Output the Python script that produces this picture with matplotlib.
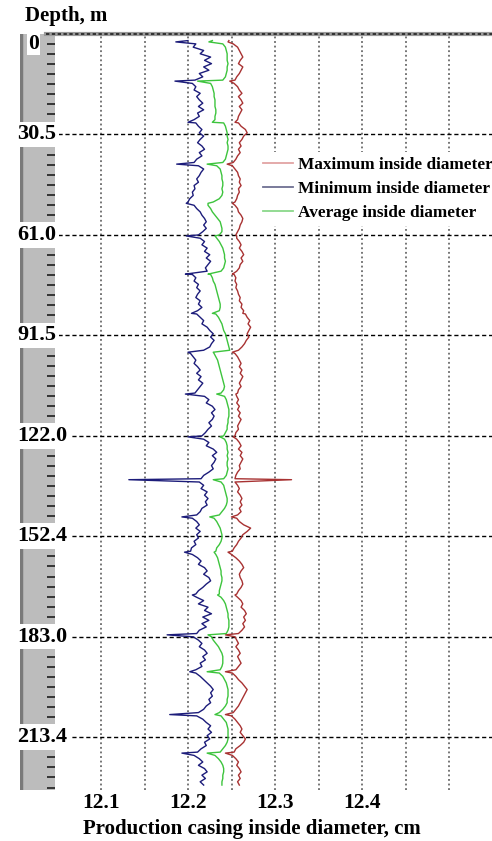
import numpy as np
import matplotlib.pyplot as plt
from matplotlib.lines import Line2D
from matplotlib.transforms import blended_transform_factory

plt.rcParams['font.family'] = ['Liberation Serif', 'DejaVu Serif']
plt.rcParams['font.weight'] = 'bold'

# caliper log, one reading per metre (2 m .. 228 m)
depth = np.arange(2, 229)

d_min = [
    12.200, 12.209, 12.206, 12.218, 12.214, 12.226, 12.219, 12.227, 12.218, 12.224, 12.213, 12.217, 12.208,
    12.205, 12.209, 12.207, 12.214, 12.210, 12.213, 12.217, 12.212, 12.218, 12.211, 12.213, 12.207,
    12.209, 12.212, 12.216, 12.213, 12.218, 12.214, 12.211, 12.216, 12.219, 12.213, 12.216, 12.210, 12.207,
    12.212, 12.218, 12.215, 12.213, 12.210, 12.212, 12.207, 12.208, 12.205, 12.206, 12.202, 12.200,
    12.207, 12.210, 12.214, 12.216, 12.219, 12.221, 12.218, 12.221, 12.217,
    12.212, 12.214, 12.219, 12.216, 12.222, 12.219, 12.225, 12.221, 12.226, 12.223, 12.220, 12.222,
    12.205, 12.209, 12.207, 12.212, 12.210, 12.214, 12.211, 12.209, 12.214, 12.212, 12.216, 12.211,
    12.210, 12.214, 12.218, 12.216, 12.222, 12.225, 12.229, 12.226, 12.230, 12.227, 12.225, 12.218,
    12.203, 12.206, 12.209, 12.207, 12.211, 12.214, 12.210, 12.215, 12.212, 12.217, 12.214, 12.211,
    12.208,
    12.219, 12.224, 12.221, 12.228, 12.231, 12.227, 12.230, 12.228, 12.224, 12.227, 12.223, 12.220,
    12.216,
    12.218, 12.224, 12.221, 12.229, 12.233, 12.228, 12.232, 12.230, 12.227, 12.229, 12.224, 12.218,
    12.215,
    12.213, 12.218, 12.215, 12.222, 12.219, 12.223, 12.220, 12.222, 12.216, 12.214, 12.210,
    12.205, 12.210, 12.213, 12.209, 12.214, 12.210, 12.212, 12.207, 12.209, 12.204,
    12.203,
    12.205, 12.211, 12.215, 12.212, 12.219, 12.222, 12.218, 12.224, 12.226, 12.221, 12.217, 12.212,
    12.209,
    12.210, 12.218, 12.212, 12.223, 12.219, 12.227, 12.217, 12.224, 12.216, 12.221, 12.213, 12.210,
    12.206, 12.212, 12.216, 12.213, 12.219, 12.222, 12.217, 12.220, 12.214, 12.216, 12.209,
    12.209, 12.214, 12.218, 12.222, 12.226, 12.229, 12.226, 12.228, 12.224, 12.226, 12.221, 12.218, 12.212,
    12.210, 12.217, 12.221, 12.226, 12.223, 12.227, 12.222, 12.225, 12.219, 12.221, 12.215,
    12.211,
    12.207, 12.213, 12.217, 12.212, 12.219, 12.222, 12.216, 12.220, 12.214, 12.218,
]

d_avg = [
    12.228, 12.240, 12.243, 12.244, 12.245, 12.245, 12.245, 12.246, 12.245, 12.245, 12.244, 12.243, 12.240,
    12.226, 12.228, 12.229, 12.230, 12.230, 12.231, 12.231, 12.231, 12.232, 12.232, 12.231, 12.231,
    12.241, 12.243, 12.244, 12.245, 12.245, 12.246, 12.245, 12.246, 12.246, 12.245, 12.244, 12.243, 12.240,
    12.233, 12.237, 12.238, 12.239, 12.239, 12.240, 12.240, 12.239, 12.240, 12.239, 12.236, 12.229,
    12.223, 12.226, 12.228, 12.231, 12.234, 12.237, 12.238, 12.239, 12.239,
    12.236, 12.233, 12.236, 12.238, 12.240, 12.241, 12.242, 12.242, 12.243, 12.242, 12.241, 12.238,
    12.226, 12.228, 12.229, 12.231, 12.232, 12.233, 12.234, 12.235, 12.236, 12.237, 12.237, 12.236,
    12.232, 12.235, 12.237, 12.239, 12.240, 12.241, 12.243, 12.244, 12.245, 12.246, 12.247, 12.248,
    12.230, 12.232, 12.234, 12.235, 12.236, 12.237, 12.238, 12.239, 12.240, 12.241, 12.242, 12.241,
    12.238,
    12.242, 12.244, 12.245, 12.246, 12.247, 12.247, 12.247, 12.246, 12.246, 12.245, 12.245, 12.243,
    12.241,
    12.242, 12.244, 12.245, 12.245, 12.246, 12.245, 12.246, 12.245, 12.245, 12.246, 12.245, 12.244,
    12.241,
    12.238, 12.241, 12.242, 12.243, 12.244, 12.245, 12.245, 12.244, 12.242, 12.239, 12.236,
    12.230, 12.233, 12.235, 12.237, 12.238, 12.239, 12.239, 12.238, 12.236, 12.233,
    12.232,
    12.232, 12.234, 12.235, 12.236, 12.237, 12.238, 12.238, 12.239, 12.239, 12.238, 12.237, 12.236,
    12.236,
    12.238, 12.241, 12.243, 12.244, 12.245, 12.246, 12.246, 12.247, 12.247, 12.247, 12.246, 12.244,
    12.227, 12.229, 12.232, 12.235, 12.237, 12.239, 12.240, 12.240, 12.240, 12.239, 12.237,
    12.236, 12.240, 12.242, 12.244, 12.245, 12.246, 12.246, 12.246, 12.245, 12.245, 12.243, 12.240, 12.236,
    12.238, 12.241, 12.244, 12.245, 12.246, 12.246, 12.246, 12.246, 12.245, 12.243, 12.240,
    12.237,
    12.231, 12.235, 12.238, 12.240, 12.241, 12.241, 12.240, 12.240, 12.239, 12.239,
]

d_max = [
    12.247, 12.252, 12.257, 12.259, 12.261, 12.263, 12.260, 12.258, 12.263, 12.261, 12.259, 12.256, 12.254,
    12.253, 12.257, 12.259, 12.262, 12.258, 12.261, 12.263, 12.259, 12.262, 12.260, 12.258, 12.257,
    12.258, 12.261, 12.266, 12.268, 12.264, 12.262, 12.259, 12.261, 12.258, 12.260, 12.257, 12.255, 12.252,
    12.251, 12.254, 12.257, 12.258, 12.260, 12.259, 12.261, 12.258, 12.259, 12.257, 12.256, 12.254,
    12.254, 12.257, 12.258, 12.261, 12.263, 12.262, 12.260, 12.259, 12.257,
    12.255, 12.256, 12.259, 12.261, 12.259, 12.262, 12.264, 12.261, 12.263, 12.260, 12.259, 12.256,
    12.253, 12.255, 12.254, 12.256, 12.255, 12.257, 12.258, 12.260, 12.259, 12.262, 12.261, 12.264,
    12.266, 12.268, 12.271, 12.269, 12.272, 12.270, 12.268, 12.270, 12.267, 12.265, 12.262, 12.258,
    12.254, 12.257, 12.259, 12.261, 12.259, 12.262, 12.260, 12.263, 12.261, 12.259, 12.261, 12.258,
    12.257,
    12.256, 12.258, 12.256, 12.259, 12.257, 12.260, 12.258, 12.261, 12.259, 12.257, 12.258, 12.255,
    12.254,
    12.256, 12.259, 12.261, 12.258, 12.262, 12.260, 12.263, 12.261, 12.259, 12.260, 12.257, 12.255,
    12.254,
    12.254, 12.257, 12.259, 12.257, 12.260, 12.262, 12.260, 12.262, 12.259, 12.261, 12.257,
    12.256, 12.259, 12.264, 12.272, 12.268, 12.263, 12.261, 12.258, 12.256, 12.253,
    12.251,
    12.250, 12.255, 12.259, 12.262, 12.264, 12.261, 12.259, 12.260, 12.262, 12.263, 12.261, 12.258,
    12.256,
    12.257, 12.261, 12.263, 12.261, 12.265, 12.267, 12.264, 12.266, 12.263, 12.265, 12.262, 12.258,
    12.254, 12.256, 12.258, 12.255, 12.258, 12.260, 12.257, 12.259, 12.261, 12.258, 12.255,
    12.251, 12.255, 12.258, 12.262, 12.265, 12.268, 12.266, 12.264, 12.262, 12.260, 12.258, 12.255, 12.252,
    12.250, 12.254, 12.257, 12.260, 12.262, 12.260, 12.263, 12.266, 12.264, 12.260, 12.255,
    12.253,
    12.251, 12.255, 12.258, 12.256, 12.259, 12.261, 12.258, 12.260, 12.257, 12.259,
]

# casing collars: readings taken right at each joint
joint_depth = [2.4, 14.3, 26.8, 39.5, 51.4, 61.3, 72.9, 84.8, 96.6, 109.3,
               122.3, 135.3, 146.6, 157.3, 170.3, 182.4, 193.6, 206.6, 218.3]
min_spike = [12.186, 12.185, 12.200, 12.187, 12.198, 12.198, 12.197, 12.204, 12.200, 12.197,
             12.200, 12.132, 12.193, 12.196, 12.205, 12.176, 12.202, 12.179, 12.193]
avg_spike = [12.224, 12.211, 12.228, 12.222, 12.223, 12.231, 12.223, 12.228, 12.229, 12.233,
             12.237, 12.229, 12.225, 12.230, 12.234, 12.223, 12.222, 12.231, 12.222]
max_spike = [12.246, 12.248, 12.254, 12.245, 12.251, 12.256, 12.251, 12.263, 12.251, 12.255,
             12.252, 12.319, 12.250, 12.246, 12.254, 12.243, 12.243, 12.243, 12.243]

depth_marks = [0, 30.5, 61.0, 91.5, 122.0, 152.4, 183.0, 213.4]
depth_labels = ['0', '30.5', '61.0', '91.5', '122.0', '152.4', '183.0', '213.4']
x_ticks = [12.1, 12.2, 12.3, 12.4]
x_grid = [12.10, 12.15, 12.20, 12.25, 12.30, 12.35, 12.40, 12.45, 12.50]


def with_joints(values, spikes):
    z = np.concatenate([depth, joint_depth])
    v = np.concatenate([values, spikes])
    order = np.argsort(z, kind='stable')
    return v[order], z[order]


W, H = 492, 841
top_px, bot_px = 34, 790
fig = plt.figure(figsize=(W / 100, H / 100), dpi=100)
fig.patch.set_facecolor('white')

# depth track on the left
track = fig.add_axes([20 / W, 1 - bot_px / H, 35 / W, (bot_px - top_px) / H])
ax = fig.add_axes([57.5 / W, 1 - bot_px / H, 435 / W, (bot_px - top_px) / H], sharey=track)

track.set_facecolor('#bcbcbc')
track.set_xlim(0, 1)
for s in track.spines.values():
    s.set_visible(False)
track.axvline(0.02, color='#7a7a7a', lw=2.5)
track.hlines(np.arange(3.05, 229, 3.05), 0.76, 1.0, color='#2a2a2a', lw=1.3)
track.tick_params(left=False, bottom=False, labelleft=False, labelbottom=False)

ax.set_xlim(12.05, 12.55)
ax.set_ylim(229.5, 0)
for s in ax.spines.values():
    s.set_visible(False)

# grid
for xv in x_grid:
    ax.axvline(xv, color='#505050', lw=1.1, ls=(0, (1.2, 1.8)), zorder=1)
for dv in depth_marks[1:]:
    ax.axhline(dv, color='black', lw=1.0, ls=(0, (3, 2)), zorder=1)
tr = blended_transform_factory(ax.transAxes, ax.transData)
ax.plot([(46 - 57.5) / 435, 1], [0, 0], transform=tr, color='#9a9a9a', lw=3, clip_on=False, zorder=2)
ax.plot([(46 - 57.5) / 435, 1], [0, 0], transform=tr, color='#202020', lw=1.2,
        ls=(0, (2, 1.5)), clip_on=False, zorder=2)

# depth labels
for dv, lab in zip(depth_marks, depth_labels):
    if lab == '0':
        ax.text((28 - 57.5) / 435, dv, lab, transform=tr, ha='left', va='top', fontsize=15.5,
                clip_on=False, zorder=6,
                bbox=dict(facecolor='white', edgecolor='none', pad=1.0))
    else:
        ax.text((17 - 57.5) / 435, dv, lab, transform=tr, ha='left', va='center', fontsize=16,
                clip_on=False, zorder=6,
                bbox=dict(facecolor='white', edgecolor='none', pad=2.0))

# traces
c_max, c_min, c_avg = '#a83232', '#1c1c7a', '#3dc43d'
x, z = with_joints(d_max, max_spike)
ax.plot(x, z, color=c_max, lw=1.0, zorder=3)
x, z = with_joints(d_min, min_spike)
ax.plot(x, z, color=c_min, lw=1.0, zorder=3)
x, z = with_joints(d_avg, avg_spike)
ax.plot(x, z, color=c_avg, lw=1.0, zorder=3)

handles = [Line2D([], [], color='#e2a4a4', lw=1.3),
           Line2D([], [], color='#6e7092', lw=1.3),
           Line2D([], [], color='#8ad88a', lw=1.3)]
ax.legend(handles, ['Maximum inside diameter', 'Minimum inside diameter', 'Average inside diameter'],
          loc='upper left', bbox_to_anchor=(258 / W, 1 - 152 / H), bbox_transform=fig.transFigure,
          frameon=True, framealpha=1, facecolor='white', edgecolor='none', fancybox=False,
          prop={'size': 12.4, 'weight': 'bold'}, handlelength=1.75, handletextpad=0.25,
          labelspacing=0.45, borderpad=0.3, borderaxespad=0)

ax.set_xticks(x_ticks)
ax.set_xticklabels(['12.1', '12.2', '12.3', '12.4'])
ax.tick_params(axis='x', length=0, pad=2, labelsize=15.5)
ax.tick_params(axis='y', left=False, labelleft=False)

fig.text(25 / W, 1 - 16 / H, 'Depth, m', ha='left', va='center', fontsize=15)
fig.text(252 / W, 1 - 829 / H, 'Production casing inside diameter, cm', ha='center', va='center',
         fontsize=15)

fig.savefig('out.png', dpi=100, facecolor='white')
